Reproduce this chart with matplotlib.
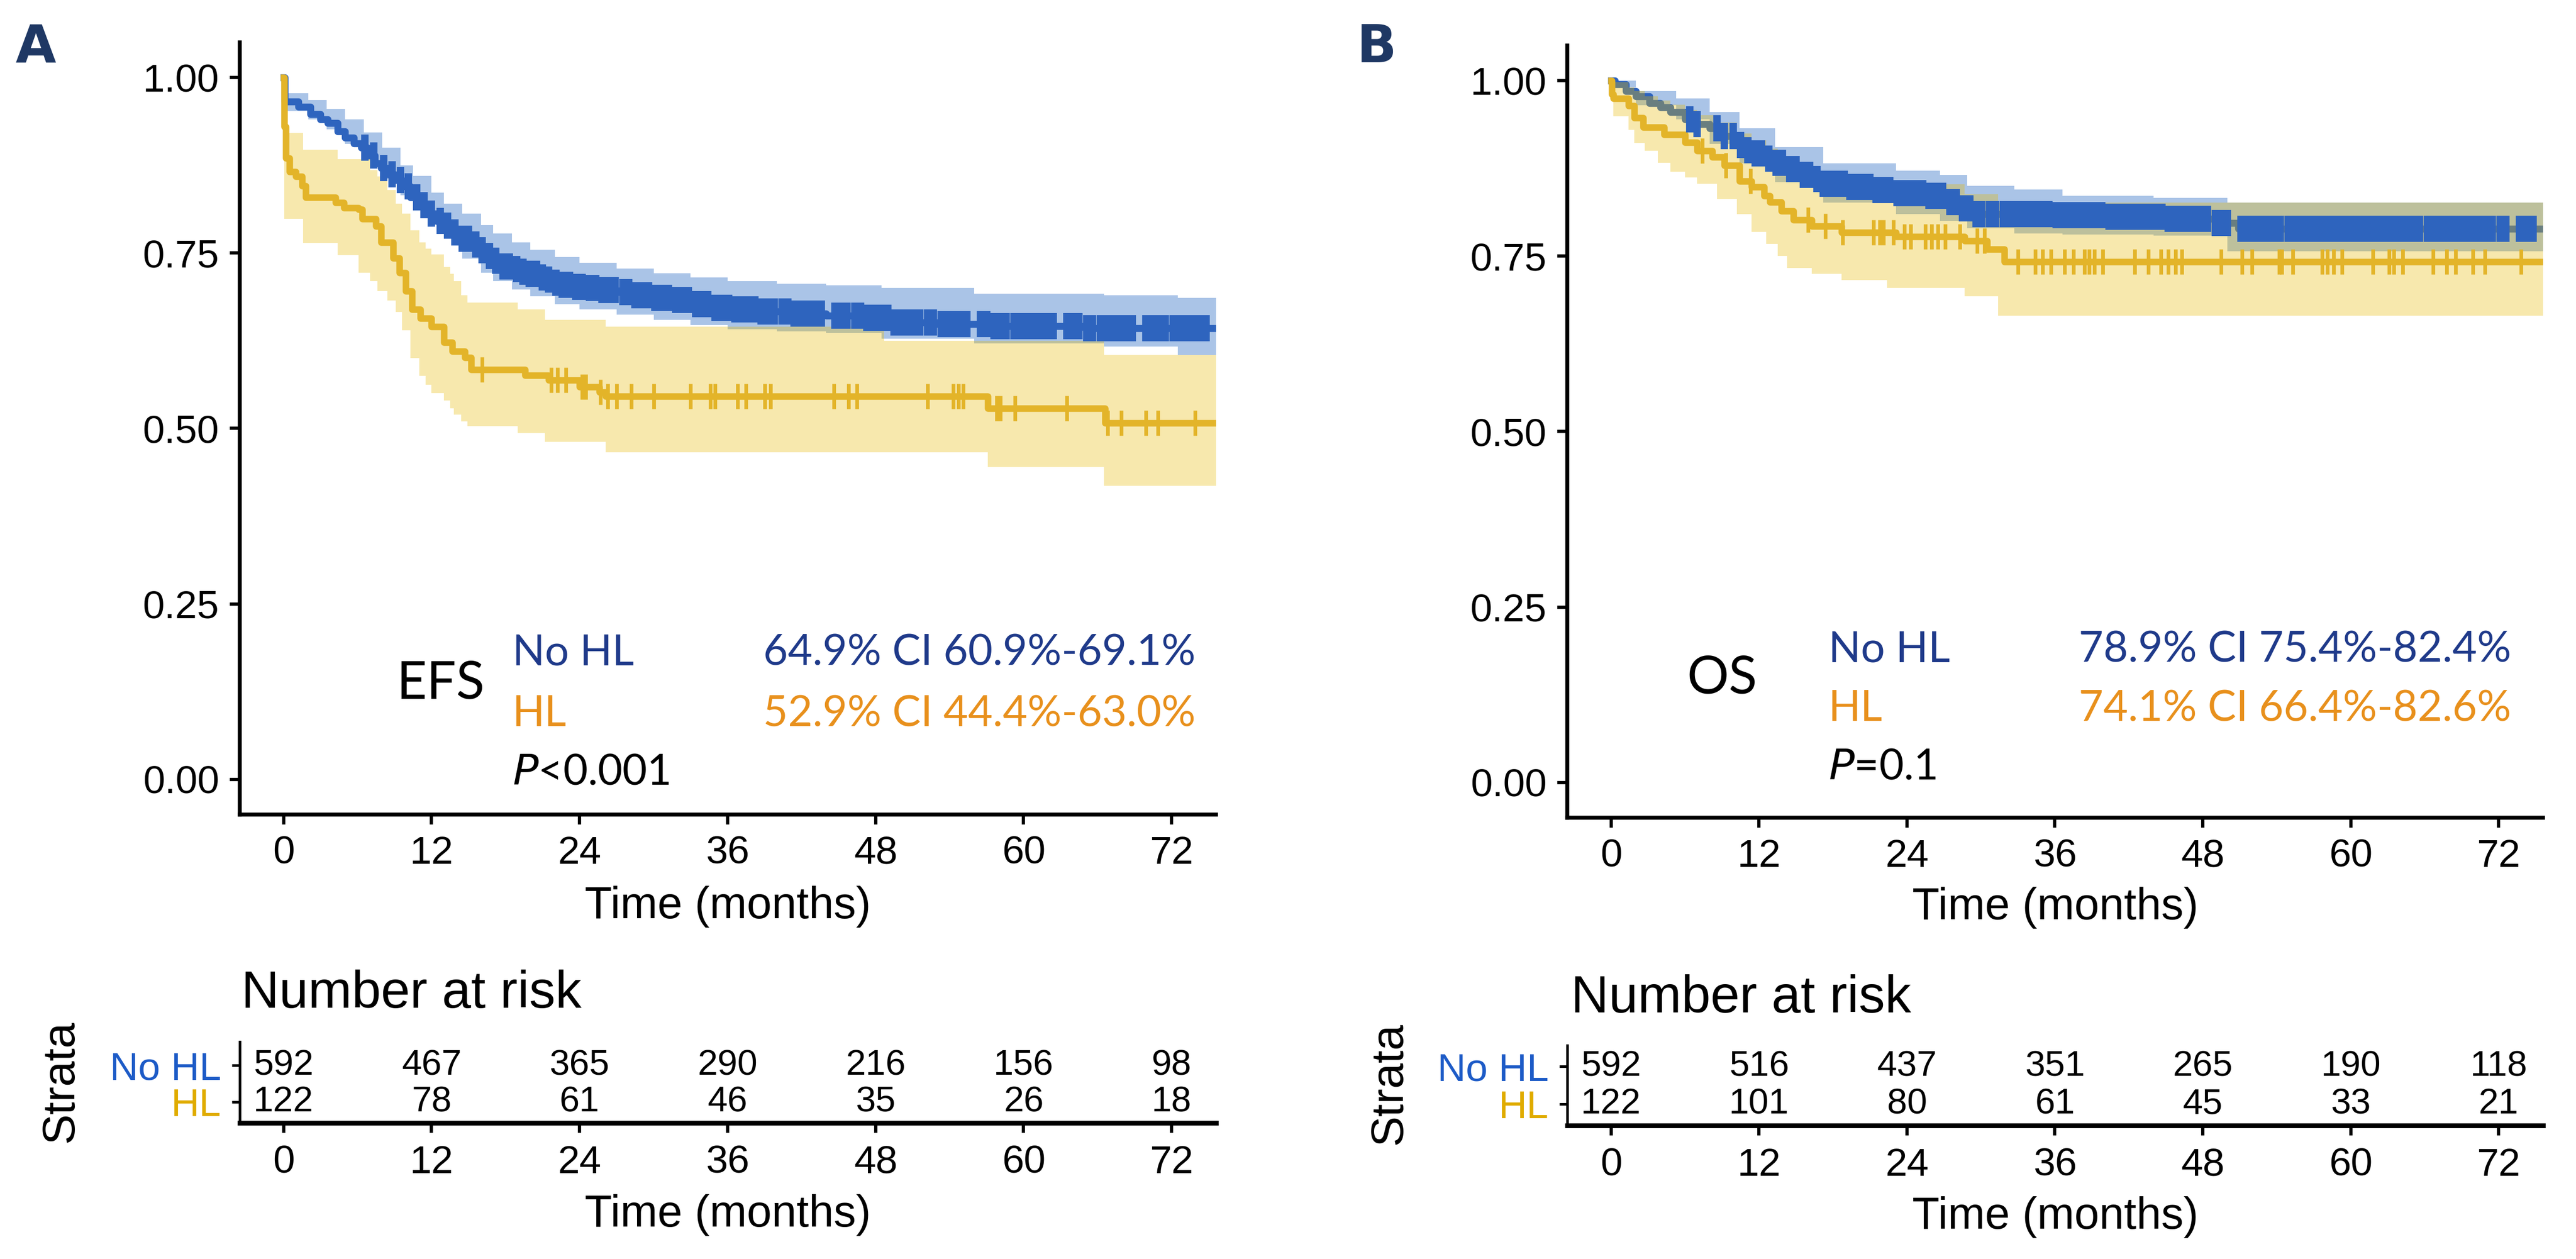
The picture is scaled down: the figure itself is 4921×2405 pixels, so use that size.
import numpy as np
import matplotlib
matplotlib.use("Agg")
import matplotlib.pyplot as plt

W, H = 4921, 2405
DPI = 300

plt.rcParams['font.family'] = ['Liberation Sans', 'DejaVu Sans']

# ---------------- data: panel A (EFS) ----------------
efs_nohl_t = [0, 0.1, 1.2, 2.2, 3.0, 3.6, 4.4, 5.0, 5.7, 6.3, 6.8, 7.4, 7.9, 8.5, 9.0, 9.6, 10.3, 11.0,
              11.7, 12.4, 13.0, 13.7, 14.4, 15.1, 15.7, 16.4, 17.1, 17.8, 18.5, 19.2, 19.8, 20.6, 21.2,
              22.0, 22.6, 23.5, 24.5, 25.8, 27.0, 28.5, 30.0, 31.5, 33.0, 34.6, 36.3, 38.5, 41.0, 44.0,
              47.0, 49.2, 53.0, 57.5, 65.0, 75.6]
efs_nohl_s = [1.0, 0.966, 0.958, 0.948, 0.940, 0.935, 0.923, 0.914, 0.906, 0.900, 0.889, 0.878, 0.871,
              0.862, 0.854, 0.845, 0.829, 0.818, 0.806, 0.796, 0.789, 0.779, 0.770, 0.762, 0.754, 0.746,
              0.739, 0.731, 0.727, 0.723, 0.720, 0.715, 0.712, 0.708, 0.705, 0.702, 0.700, 0.697, 0.694,
              0.690, 0.686, 0.683, 0.677, 0.672, 0.670, 0.667, 0.664, 0.661, 0.658, 0.651, 0.649, 0.646,
              0.643, 0.643]
efs_nohl_ci_t = [0, 0.1, 2.0, 3.5, 5.0, 6.5, 8.0, 9.5, 10.5, 12.0, 13.0, 14.5, 16.0, 17.0, 18.5, 20.0,
                 22.0, 24.0, 27.0, 30.0, 33.0, 36.0, 40.0, 44.0, 48.5, 56.0, 66.5, 72.5, 75.6]
efs_nohl_hi = [1.0, 0.978, 0.968, 0.955, 0.940, 0.922, 0.900, 0.875, 0.860, 0.836, 0.820, 0.806, 0.790,
               0.778, 0.765, 0.755, 0.744, 0.736, 0.728, 0.721, 0.715, 0.710, 0.706, 0.704, 0.700, 0.692,
               0.690, 0.686, 0.686]
efs_nohl_lo = [1.0, 0.952, 0.940, 0.926, 0.905, 0.882, 0.855, 0.832, 0.815, 0.790, 0.775, 0.742, 0.722,
               0.710, 0.698, 0.688, 0.677, 0.670, 0.662, 0.655, 0.647, 0.641, 0.638, 0.636, 0.628, 0.621,
               0.617, 0.605, 0.605]
efs_nohl_cens = [6.6, 7.3, 8.1, 8.8, 9.5, 10.1, 10.8, 11.4, 12.0, 12.7, 13.3, 13.9, 14.5, 15.0, 15.6,
                 16.1, 16.7, 17.2, 17.8, 18.3, 18.9, 19.4, 19.9, 20.5, 21.0, 21.5, 22.1, 22.6, 23.2, 23.7,
                 24.2, 24.8, 25.3, 25.8, 26.4, 26.9, 27.5, 28.0, 28.5, 29.1, 29.6, 30.1, 30.7, 31.2, 31.8,
                 32.3, 32.8, 33.4, 33.9, 34.4, 35.0, 35.5, 36.1, 36.6, 37.1, 37.7, 38.2, 38.7, 39.3, 39.8,
                 40.4, 40.9, 41.4, 42.0, 42.5, 43.0, 43.6, 44.7, 45.2, 45.7, 46.3, 46.8, 47.3, 47.9, 48.4,
                 49.0, 49.5, 50.0, 50.6, 51.1, 51.6, 52.2, 52.7, 53.3, 53.8, 54.3, 54.9, 55.4, 56.5, 57.0,
                 57.6, 58.1, 58.6, 59.2, 59.7, 60.2, 60.8, 61.3, 61.9, 62.4, 63.5, 64.0, 64.5, 65.1, 65.6,
                 66.2, 66.7, 67.2, 67.8, 68.3, 68.8, 69.9, 70.5, 71.0, 71.5, 72.1, 72.6, 73.1, 73.7, 74.2,
                 74.8]

efs_hl_t = [0, 0.05, 0.2, 0.5, 1.0, 1.5, 1.8, 4.2, 4.9, 6.1, 6.4, 7.5, 7.9, 8.9, 9.4, 9.9, 10.4, 11.1,
            12.0, 13.0, 13.7, 14.7, 15.2, 19.6, 21.5, 24.0, 25.6, 26.1, 57.1, 66.6, 75.6]
efs_hl_s = [1.0, 0.93, 0.885, 0.866, 0.859, 0.846, 0.829, 0.822, 0.814, 0.812, 0.799, 0.788, 0.765,
            0.743, 0.722, 0.696, 0.670, 0.657, 0.645, 0.623, 0.610, 0.601, 0.584, 0.576, 0.569, 0.559,
            0.552, 0.546, 0.529, 0.508, 0.508]
efs_hl_ci_t = [0, 0.05, 1.6, 4.4, 6.1, 7.0, 7.6, 8.4, 9.1, 9.6, 10.3, 11.0, 11.5, 12.0, 13.0, 13.5, 13.8,
               14.4, 14.9, 19.0, 21.2, 26.1, 48.7, 57.1, 66.5, 75.6]
efs_hl_hi = [1.0, 0.921, 0.897, 0.884, 0.884, 0.868, 0.859, 0.840, 0.820, 0.806, 0.782, 0.765, 0.756,
             0.748, 0.730, 0.720, 0.710, 0.690, 0.679, 0.670, 0.655, 0.645, 0.625, 0.625, 0.605, 0.605]
efs_hl_lo = [1.0, 0.799, 0.764, 0.747, 0.722, 0.710, 0.696, 0.682, 0.666, 0.640, 0.600, 0.575, 0.562,
             0.550, 0.540, 0.529, 0.520, 0.510, 0.503, 0.494, 0.481, 0.466, 0.466, 0.445, 0.418, 0.418]
efs_hl_cens = [16.1, 21.7, 22.2, 22.9, 24.2, 24.5, 25.7, 26.3, 27.0, 28.2, 30.0, 33.0, 34.6, 35.0, 36.8,
               37.5, 39.0, 39.5, 44.6, 45.8, 46.5, 52.2, 54.3, 54.7, 55.1, 57.8, 58.1, 59.3, 63.5, 66.8,
               67.9, 69.9, 70.9, 73.9]

# ---------------- data: panel B (OS) ----------------
os_nohl_t = [0, 0.3, 1.2, 2.0, 3.1, 4.0, 4.8, 6.0, 7.0, 8.0, 9.2, 10.4, 11.0, 11.6, 12.5, 13.3, 14.3,
             15.3, 16.2, 17.2, 19.2, 21.1, 23.1, 25.5, 27.5, 28.5, 29.4, 36.0, 40.0, 45.2, 49.0, 50.9, 75.6]
os_nohl_s = [1.0, 0.995, 0.985, 0.978, 0.968, 0.962, 0.955, 0.945, 0.938, 0.932, 0.921, 0.908, 0.901,
             0.896, 0.889, 0.883, 0.874, 0.866, 0.860, 0.853, 0.849, 0.844, 0.840, 0.836, 0.827, 0.818,
             0.810, 0.808, 0.806, 0.803, 0.797, 0.789, 0.789]
os_nohl_ci_t = [0, 0.3, 2.0, 5.3, 8.0, 10.4, 13.3, 17.2, 23.1, 26.7, 28.9, 32.7, 36.6, 44.0, 50.0, 75.6]
os_nohl_hi = [1.0, 1.0, 0.985, 0.975, 0.955, 0.932, 0.905, 0.882, 0.872, 0.866, 0.850, 0.845, 0.836,
              0.833, 0.8265, 0.8265]
os_nohl_lo = [1.0, 0.99, 0.965, 0.945, 0.910, 0.882, 0.855, 0.826, 0.810, 0.800, 0.790, 0.782, 0.781,
              0.779, 0.757, 0.757]
os_nohl_cens = [6.4, 7.0, 8.6, 9.2, 9.9, 10.5, 11.1, 11.7, 12.2, 12.8, 13.4, 13.9, 14.5, 15.0, 15.6,
                16.1, 16.7, 17.2, 17.8, 18.3, 18.9, 19.4, 19.9, 20.5, 21.0, 21.5, 22.1, 22.6, 23.2, 23.7,
                24.2, 24.8, 25.3, 25.8, 26.4, 26.9, 27.5, 28.0, 28.5, 29.1, 29.6, 30.1, 30.7, 31.2, 31.8,
                32.3, 32.8, 33.4, 33.9, 34.4, 35.0, 35.5, 36.1, 36.6, 37.1, 37.7, 38.2, 38.7, 39.3, 39.8,
                40.4, 40.9, 41.4, 42.0, 42.5, 43.0, 43.6, 44.1, 44.7, 45.2, 45.7, 46.3, 46.8, 47.3, 47.9,
                48.4, 49.0, 49.5, 50.0, 51.1, 51.6, 52.2, 52.7, 53.3, 53.8, 54.3, 54.9, 55.4, 55.9, 56.5,
                57.0, 57.6, 58.1, 58.6, 59.2, 59.7, 60.2, 60.8, 61.3, 61.9, 62.4, 62.9, 63.5, 64.0, 64.5,
                65.1, 65.6, 66.2, 66.7, 67.2, 67.8, 68.3, 68.8, 69.4, 69.9, 70.5, 71.0, 71.5, 72.1, 72.6,
                73.7, 74.2, 74.8]

os_hl_t = [0, 0.05, 0.2, 1.4, 1.9, 2.6, 4.3, 6.0, 7.0, 8.2, 9.2, 10.4, 11.4, 12.4, 12.9, 13.8, 14.8,
           16.3, 18.7, 23.1, 28.7, 30.5, 31.9, 75.6]
os_hl_s = [1.0, 0.981, 0.975, 0.964, 0.947, 0.934, 0.923, 0.912, 0.900, 0.891, 0.879, 0.857, 0.8485,
           0.836, 0.827, 0.814, 0.802, 0.793, 0.784, 0.778, 0.772, 0.760, 0.742, 0.742]
os_hl_ci_t = [0, 0.19, 1.41, 1.9, 2.75, 3.8, 4.82, 6.0, 7.0, 8.6, 10.2, 11.4, 12.6, 13.5, 14.3, 16.3,
              18.7, 22.4, 28.7, 31.4, 75.6]
os_hl_hi = [1.0, 0.998, 0.990, 0.985, 0.978, 0.972, 0.966, 0.958, 0.951, 0.940, 0.925, 0.915, 0.903,
            0.885, 0.878, 0.866, 0.858, 0.852, 0.838, 0.826, 0.826]
os_hl_lo = [1.0, 0.949, 0.930, 0.911, 0.900, 0.883, 0.870, 0.862, 0.853, 0.8315, 0.810, 0.7845, 0.767,
            0.750, 0.733, 0.725, 0.716, 0.705, 0.693, 0.665, 0.665]
os_hl_cens = [7.4, 9.3, 11.3, 16.0, 17.4, 18.8, 21.3, 21.8, 22.1, 22.9, 23.8, 24.3, 25.5, 26.0, 26.5,
              27.1, 28.3, 29.7, 30.3, 33.0, 34.4, 35.0, 35.7, 36.8, 37.5, 38.4, 38.8, 39.2, 39.9, 42.5,
              43.6, 44.6, 45.2, 45.8, 46.3, 49.5, 51.2, 52.0, 54.2, 54.4, 55.3, 57.7, 58.1, 58.6, 59.3,
              61.8, 63.1, 63.5, 64.2, 66.7, 67.8, 68.5, 69.9, 70.9, 73.8]

# ---------------- risk tables ----------------
risk_times = [0, 12, 24, 36, 48, 60, 72]
efs_risk_nohl = [592, 467, 365, 290, 216, 156, 98]
efs_risk_hl = [122, 78, 61, 46, 35, 26, 18]
os_risk_nohl = [592, 516, 437, 351, 265, 190, 118]
os_risk_hl = [122, 101, 80, 61, 45, 33, 21]

# ---------------- annotation texts ----------------
efs_labels = ["64.9% CI 60.9%-69.1%", "52.9% CI 44.4%-63.0%"]
os_labels = ["78.9% CI 75.4%-82.4%", "74.1% CI 66.4%-82.6%"]

BLUE = "#2E64BE"
BLUE_FILL = "#2B6CC4"
YEL = "#E3B429"
YEL_FILL = "#E7B800"
NAVY = "#1F3A8A"
ORANGE = "#E8901C"
TAB_BLUE = "#1D5BC7"
TAB_YEL = "#E0AC00"
LETTER = "#1F3864"

XLIM = (-3.55, 75.6)


def rect(left, top, right, bottom):
    return [left / W, 1 - bottom / H, (right - left) / W, (bottom - top) / H]


def fx(x):
    return x / W


def fy(y):
    return 1 - y / H


def step_at(t, s, x):
    t = np.asarray(t)
    s = np.asarray(s)
    idx = np.searchsorted(t, x, side='right') - 1
    return s[np.clip(idx, 0, len(s) - 1)]


fig = plt.figure(figsize=(W / DPI, H / DPI), dpi=DPI)


def km_panel(rc, nohl, hl):
    ax = fig.add_axes(rc)
    t1, s1, ct1, hi1, lo1, c1 = nohl
    t2, s2, ct2, hi2, lo2, c2 = hl
    ax.fill_between(ct1, lo1, hi1, step='post', color=BLUE_FILL, alpha=0.4, lw=0, zorder=1)
    ax.step(t1, s1, where='post', color=BLUE, lw=3.2, zorder=2)
    ax.fill_between(ct2, lo2, hi2, step='post', color=YEL_FILL, alpha=0.32, lw=0, zorder=3)
    ax.step(t2, s2, where='post', color=YEL, lw=3, zorder=4)
    ax.plot(c1, step_at(t1, s1, c1), ls='none', marker='|', ms=12, mew=3.4, color=BLUE, zorder=5)
    ax.plot(c2, step_at(t2, s2, c2), ls='none', marker='|', ms=11.5, mew=1.7, color=YEL, zorder=6)
    ax.set_xlim(*XLIM)
    ax.set_ylim(-0.05, 1.05)
    ax.set_xticks(risk_times)
    ax.set_yticks([0, 0.25, 0.5, 0.75, 1.0])
    ax.set_yticklabels(["0.00", "0.25", "0.50", "0.75", "1.00"])
    for sp in ['top', 'right']:
        ax.spines[sp].set_visible(False)
    for sp in ['left', 'bottom']:
        ax.spines[sp].set_linewidth(1.8)
    ax.tick_params(length=4.5, width=1.5, labelsize=18, pad=5)
    return ax


def risk_panel(rc, top, row1, row2, bottom, n1, n2):
    ax = fig.add_axes(rc)
    unit = row2 - row1
    ax.set_xlim(*XLIM)
    ax.set_ylim(1 - (bottom - row2) / unit, 2 + (row1 - top) / unit)
    for t, a, b in zip(risk_times, n1, n2):
        ax.text(t, 2, str(a), ha='center', va='center', fontsize=16.5)
        ax.text(t, 1, str(b), ha='center', va='center', fontsize=16.5)
    ax.set_xticks(risk_times)
    ax.set_yticks([2, 1])
    ax.set_yticklabels(["No HL", "HL"])
    ax.get_yticklabels()[0].set_color(TAB_BLUE)
    ax.get_yticklabels()[1].set_color(TAB_YEL)
    for sp in ['top', 'right']:
        ax.spines[sp].set_visible(False)
    ax.spines['left'].set_linewidth(1.2)
    ax.spines['bottom'].set_linewidth(2.2)
    ax.tick_params(axis='x', length=4.5, width=1.5, labelsize=18, pad=5.5)
    ax.tick_params(axis='y', length=3.5, width=1.2, labelsize=18, pad=5)
    return ax


# panel A
axA = km_panel(rect(458, 81, 2323, 1556),
               (efs_nohl_t, efs_nohl_s, efs_nohl_ci_t, efs_nohl_hi, efs_nohl_lo, efs_nohl_cens),
               (efs_hl_t, efs_hl_s, efs_hl_ci_t, efs_hl_hi, efs_hl_lo, efs_hl_cens))
fig.text(fx(1390), fy(1754), "Time (months)", ha='center', va='baseline', fontsize=20.5)
risk_panel(rect(458, 1990, 2323, 2145), 1990, 2035, 2105, 2145, efs_risk_nohl, efs_risk_hl)
fig.text(fx(1390), fy(2343), "Time (months)", ha='center', va='baseline', fontsize=20.5)
fig.text(fx(461), fy(1925), "Number at risk", ha='left', va='baseline', fontsize=24)
fig.text(fx(117), fy(2066), "Strata", rotation=90, ha='center', va='center', fontsize=21)

# panel B
axB = km_panel(rect(2994, 87, 4858, 1562),
               (os_nohl_t, os_nohl_s, os_nohl_ci_t, os_nohl_hi, os_nohl_lo, os_nohl_cens),
               (os_hl_t, os_hl_s, os_hl_ci_t, os_hl_hi, os_hl_lo, os_hl_cens))
fig.text(fx(3926), fy(1756), "Time (months)", ha='center', va='baseline', fontsize=20.5)
risk_panel(rect(2994, 1997, 4858, 2150), 1997, 2037, 2109, 2150, os_risk_nohl, os_risk_hl)
fig.text(fx(3926), fy(2347), "Time (months)", ha='center', va='baseline', fontsize=20.5)
fig.text(fx(3001), fy(1934), "Number at risk", ha='left', va='baseline', fontsize=24)
fig.text(fx(2655), fy(2070), "Strata", rotation=90, ha='center', va='center', fontsize=21)

# annotations (Calibri-like look)
ANN = ['Lato', 'DejaVu Sans']


def annot(x_name, x_ci, x_title, y1, y2, y3, y_title, title, labels, ptxt):
    fig.text(fx(x_name), fy(y1), "No HL", color=NAVY, fontsize=19.5, family=ANN, va='baseline')
    fig.text(fx(x_ci), fy(y1), labels[0], color=NAVY, fontsize=19.5, family=ANN, va='baseline')
    fig.text(fx(x_name), fy(y2), "HL", color=ORANGE, fontsize=19.5, family=ANN, va='baseline')
    fig.text(fx(x_ci), fy(y2), labels[1], color=ORANGE, fontsize=19.5, family=ANN, va='baseline')
    fig.text(fx(x_name), fy(y3), ptxt, color='black', fontsize=19.5, family=ANN, va='baseline')
    fig.text(fx(x_title), fy(y_title), title, color='black', fontsize=24, family=ANN, va='center')


annot(979, 1458, 758, 1270, 1387, 1498, 1306, "EFS", efs_labels, r"$\it{P}$<0.001")
annot(3493, 3971, 3222, 1264, 1377, 1488, 1296, "OS", os_labels, r"$\it{P}$=0.1")

fig.text(fx(30), fy(120), "A", color=LETTER, fontsize=24, fontweight='bold', family='DejaVu Sans', va='baseline')
fig.text(fx(2592), fy(119), "B", color=LETTER, fontsize=24, fontweight='bold', family='DejaVu Sans', va='baseline')

fig.savefig("out.png", dpi=DPI)
